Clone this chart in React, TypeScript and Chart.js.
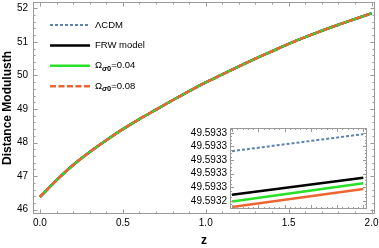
import React, { useEffect, useRef } from "react";
import { Chart, registerables } from "chart.js";

Chart.register(...registerables);

// ---------- data ----------
const zValues = [0, 0.1, 0.2, 0.3, 0.4, 0.5, 0.6, 0.7, 0.8, 0.9, 1.0, 1.1, 1.2, 1.3, 1.4, 1.5, 1.6, 1.7, 1.8, 1.9, 2.0];
const distanceModulus = [46.38, 46.88, 47.33, 47.72, 48.07, 48.4, 48.7, 48.98, 49.26, 49.53, 49.79, 50.03, 50.27, 50.5, 50.72, 50.94, 51.14, 51.33, 51.51, 51.68, 51.85];
const xTickValues = [0, 0.5, 1.0, 1.5, 2.0];
const yTickValues = [46, 47, 48, 49, 50, 51, 52];

const insetZ = [0.92, 0.93];
const insetLCDM = [49.593313, 49.593338];
const insetFRW = [49.5932488, 49.593274];
const insetOmega004 = [49.593239, 49.5932658];
const insetOmega008 = [49.5932308, 49.5932575];
const insetXTickValues = [0.92, 0.922, 0.924, 0.926, 0.928, 0.93];
const insetYTickValues = [49.59324, 49.59326, 49.59328, 49.5933, 49.59332, 49.59334];

const seriesNames = ["ΛCDM", "FRW model", "Ω_σ0=0.04", "Ω_σ0=0.08"];
const xTitle = "z";
const yTitle = "Distance Modulusth";

// ---------- styles ----------
const FONT = '"Liberation Sans", Arial, Helvetica, sans-serif';
const FRAME = "#9a9a9a";
const styles = [
  { color: "rgb(94,129,181)", width: 2, dash: [3, 2] },
  { color: "#000000", width: 2.5, dash: [] as number[] },
  { color: "rgb(40,225,40)", width: 2.5, dash: [] as number[] },
  { color: "rgb(236,102,50)", width: 2.5, dash: [6, 2.5] },
];

const pts = (xs: number[], ys: number[]) => xs.map((x, i) => ({ x, y: ys[i] }));

const frameTicks = {
  id: "frameTicks",
  afterDraw(chart: any, _a: any, o: any) {
    const { ctx, chartArea: a, scales } = chart;
    const xs = scales.x, ys = scales.y;
    ctx.save();
    ctx.strokeStyle = FRAME;
    ctx.lineWidth = 1;
    ctx.setLineDash([]);
    ctx.strokeRect(Math.round(a.left) + 0.5, Math.round(a.top) + 0.5, Math.round(a.right - a.left) - 1, Math.round(a.bottom - a.top) - 1);
    const line = (x1: number, y1: number, x2: number, y2: number) => {
      ctx.beginPath(); ctx.moveTo(x1, y1); ctx.lineTo(x2, y2); ctx.stroke();
    };
    const drawX = (v: number, len: number) => {
      const p = Math.round(xs.getPixelForValue(v)) + 0.5;
      if (p < a.left || p > a.right) return;
      line(p, a.bottom, p, a.bottom - len);
      line(p, a.top, p, a.top + len);
    };
    const drawY = (v: number, len: number) => {
      const p = Math.round(ys.getPixelForValue(v)) + 0.5;
      if (p < a.top || p > a.bottom) return;
      line(a.left, p, a.left + len, p);
      line(a.right, p, a.right - len, p);
    };
    const minors = (s: any, step: number, f: (v: number, l: number) => void) => {
      const k0 = Math.ceil(s.min / step), k1 = Math.floor(s.max / step);
      for (let k = k0; k <= k1; k++) f(k * step, o.minorLen);
    };
    minors(xs, o.xMinor, drawX);
    minors(ys, o.yMinor, drawY);
    o.xMajor.forEach((v: number) => drawX(v, o.majorLen));
    o.yMajor.forEach((v: number) => drawY(v, o.majorLen));

    // tick labels and titles
    ctx.fillStyle = "#000";
    ctx.font = `10px ${FONT}`;
    if (o.xLabels) {
      ctx.textAlign = "center";
      ctx.textBaseline = "top";
      o.xMajor.forEach((v: number) => {
        ctx.fillText(Number(v).toFixed(o.xDigits), xs.getPixelForValue(v), a.bottom + o.xGap);
      });
    }
    if (o.yLabels) {
      ctx.textAlign = "right";
      ctx.textBaseline = "middle";
      o.yMajor.forEach((v: number) => {
        ctx.fillText(Number(v).toFixed(o.yDigits), a.left - o.yGap, ys.getPixelForValue(v));
      });
    }
    if (o.xTitle) {
      ctx.font = `bold 12px ${FONT}`;
      ctx.textAlign = "center";
      ctx.textBaseline = "middle";
      ctx.fillText(o.xTitle, (a.left + a.right) / 2, o.xTitleY);
    }
    if (o.yTitle) {
      ctx.save();
      ctx.font = `bold 12px ${FONT}`;
      ctx.textAlign = "center";
      ctx.textBaseline = "middle";
      ctx.translate(o.yTitleX, (a.top + a.bottom) / 2);
      ctx.rotate(-Math.PI / 2);
      ctx.fillText(o.yTitle, 0, 0);
      ctx.restore();
    }
    ctx.restore();
  },
};

const customLegend = {
  id: "customLegend",
  afterDraw(chart: any, _a: any, o: any) {
    if (!o.show) return;
    const ctx = chart.ctx;
    ctx.save();
    seriesNames.forEach((name, i) => {
      const y = 25 + i * 20.4;
      const st = styles[i];
      ctx.strokeStyle = st.color;
      ctx.lineWidth = st.width;
      ctx.setLineDash(st.dash);
      ctx.beginPath(); ctx.moveTo(50, y); ctx.lineTo(90, y); ctx.stroke();
      ctx.setLineDash([]);
      ctx.fillStyle = "#000";
      ctx.textBaseline = "middle";
      ctx.textAlign = "left";
      let x = 95;
      if (name.includes("_")) {
        const [base, rest] = name.split("_");
        const sub = rest.slice(0, 2);
        const tail = rest.slice(2);
        ctx.font = `9.5px ${FONT}`;
        ctx.fillText(base, x, y); x += ctx.measureText(base).width;
        ctx.font = `italic bold 7.5px ${FONT}`;
        ctx.fillText(sub[0], x, y + 3); x += ctx.measureText(sub[0]).width;
        ctx.font = `bold 7.5px ${FONT}`;
        ctx.fillText(sub[1], x, y + 3); x += ctx.measureText(sub[1]).width;
        ctx.font = `9.5px ${FONT}`;
        ctx.fillText(tail, x, y);
      } else {
        ctx.font = `9.5px ${FONT}`;
        ctx.fillText(name, x, y);
      }
    });
    ctx.restore();
  },
};

export default function App() {
  const mainRef = useRef<HTMLCanvasElement>(null);
  const insetRef = useRef<HTMLCanvasElement>(null);

  useEffect(() => {
    const mainDatasets = [0, 1, 2, 3].map((i) => ({
      label: seriesNames[i],
      data: pts(zValues, distanceModulus),
      borderColor: styles[i].color,
      borderWidth: styles[i].width + (i === 0 ? 0.5 : 0),
      borderDash: styles[i].dash,
      order: 3 - i,
      pointRadius: 0,
      cubicInterpolationMode: "monotone" as const,
      fill: false,
    }));
    const main = new Chart(mainRef.current!, {
      type: "line",
      data: { datasets: mainDatasets },
      plugins: [frameTicks, customLegend],
      options: {
        animation: false,
        responsive: false,
        devicePixelRatio: 1,
        layout: { padding: { top: 2, right: 4, left: 0, bottom: 0 } },
        plugins: {
          legend: { display: false },
          tooltip: { enabled: false },
          frameTicks: {
            xMajor: xTickValues, yMajor: yTickValues, xMinor: 0.1, yMinor: 0.2, majorLen: 4.5, minorLen: 2.5,
            xLabels: true, yLabels: true, xDigits: 1, yDigits: 0, xGap: 4, yGap: 5,
            xTitle, xTitleY: 241, yTitle, yTitleX: 8,
          },
          customLegend: { show: true },
        } as any,
        scales: {
          x: {
            type: "linear",
            min: -0.042,
            max: 2.021,
            grid: { display: false },
            border: { display: false },
            ticks: { display: false },
            afterFit: (s: any) => { s.height = 34; },
          },
          y: {
            type: "linear",
            min: 45.872,
            max: 52.187,
            grid: { display: false },
            border: { display: false },
            ticks: { display: false },
            afterFit: (s: any) => { s.width = 33; },
          },
        },
      },
    });

    const insetData = [insetLCDM, insetFRW, insetOmega004, insetOmega008];
    const inset = new Chart(insetRef.current!, {
      type: "line",
      data: {
        datasets: insetData.map((d, i) => ({
          label: seriesNames[i],
          data: pts(insetZ, d),
          borderColor: styles[i].color,
          borderWidth: styles[i].width,
          borderDash: i === 0 ? styles[i].dash : [],
          pointRadius: 0,
          fill: false,
        })),
      },
      plugins: [frameTicks],
      options: {
        animation: false,
        responsive: false,
        devicePixelRatio: 1,
        layout: { padding: { top: 8, right: 12, left: 0, bottom: 0 } },
        plugins: {
          legend: { display: false },
          tooltip: { enabled: false },
          frameTicks: {
            xMajor: insetXTickValues, yMajor: insetYTickValues, xMinor: 0.0004, yMinor: 0.000005, majorLen: 4, minorLen: 2,
            xLabels: false, yLabels: true, yDigits: 4, yGap: 3,
          },
        } as any,
        scales: {
          x: {
            type: "linear",
            min: 0.919847,
            max: 0.930282,
            grid: { display: false },
            border: { display: false },
            ticks: { display: false },
            afterFit: (s: any) => { s.height = 11; },
          },
          y: {
            type: "linear",
            min: 49.593228,
            max: 49.593347,
            grid: { display: false },
            border: { display: false },
            ticks: { display: false },
            afterFit: (s: any) => { s.width = 50; },
          },
        },
      },
    });

    return () => {
      main.destroy();
      inset.destroy();
    };
  }, []);

  return (
    <div style={{ position: "absolute", left: 0, top: 0, width: 379, height: 248, background: "#fff" }}>
      <canvas ref={mainRef} width={379} height={248} style={{ position: "absolute", left: 0, top: 0, width: 379, height: 248 }} />
      <canvas ref={insetRef} width={199} height={100} style={{ position: "absolute", left: 180, top: 120, width: 199, height: 100 }} />
    </div>
  );
}
